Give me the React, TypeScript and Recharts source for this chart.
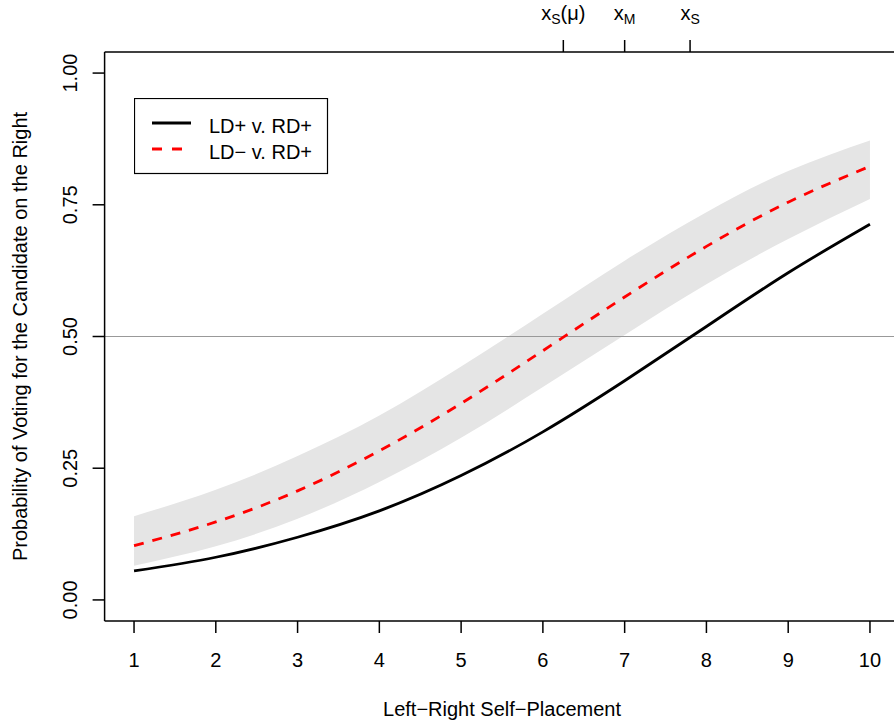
import React from 'react';
import {
  ComposedChart,
  Area,
  Line,
  XAxis,
  YAxis,
  ReferenceLine,
  Legend,
} from 'recharts';

// self-placement on the left-right scale
const placements = [1, 2, 3, 4, 5, 6, 7, 8, 9, 10];
// LD+ v. RD+ (solid black)
const ldPlus = [0.055, 0.081, 0.119, 0.169, 0.236, 0.319, 0.416, 0.519, 0.621, 0.713];
// LD- v. RD+ (dashed red)
const ldMinus = [0.103, 0.148, 0.207, 0.283, 0.373, 0.473, 0.575, 0.671, 0.755, 0.823];
// confidence band around LD- v. RD+
const bandLow = [0.065, 0.102, 0.154, 0.224, 0.308, 0.404, 0.503, 0.599, 0.685, 0.761];
const bandHigh = [0.159, 0.209, 0.273, 0.35, 0.443, 0.543, 0.644, 0.736, 0.814, 0.872];

const yTicks = [0, 0.25, 0.5, 0.75, 1];
const topTicks = [6.25, 7.0, 7.8];
const topLabels = [
  { base: 'x', sub: 'S', tail: '(\u03bc)' },
  { base: 'x', sub: 'M', tail: '' },
  { base: 'x', sub: 'S', tail: '' },
];

const data = placements.map((p, i) => ({
  p,
  solid: ldPlus[i],
  dashed: ldMinus[i],
  band: [bandLow[i], bandHigh[i]],
}));

const FONT = '"Liberation Sans", Arial, Helvetica, sans-serif';
const FS = 20;

const BottomTick = (props: any) => {
  const { x, y, payload } = props;
  return (
    <text x={x} y={y + 32} textAnchor="middle" fontSize={FS} fontFamily={FONT} fill="#000">
      {payload.value}
    </text>
  );
};

const LeftTick = (props: any) => {
  const { x, y, payload } = props;
  const cx = x - 21;
  return (
    <text
      x={cx}
      y={y}
      transform={`rotate(-90, ${cx}, ${y})`}
      textAnchor="middle"
      dominantBaseline="central"
      fontSize={FS}
      fontFamily={FONT}
      fill="#000"
    >
      {Number(payload.value).toFixed(2)}
    </text>
  );
};

const TopTick = (props: any) => {
  const { x, y, index } = props;
  const lab = topLabels[index] || topLabels[0];
  return (
    <text x={x} y={y - 18.5} textAnchor="middle" fontSize={FS} fontFamily={FONT} fill="#000">
      <tspan>{lab.base}</tspan>
      <tspan dy={4} fontSize={14}>{lab.sub}</tspan>
      {lab.tail ? <tspan dy={-4}>{lab.tail}</tspan> : null}
    </text>
  );
};

const LegendBox = () => (
  <svg width={195} height={77} style={{ display: 'block' }}>
    <rect x={0.5} y={0.5} width={193} height={75} fill="#fff" stroke="#000" strokeWidth={1.2} />
    <line x1={18} x2={57} y1={25} y2={25} stroke="#000" strokeWidth={2.8} />
    <line x1={18} x2={57} y1={51} y2={51} stroke="#ff0000" strokeWidth={2.8} strokeDasharray="10 10" />
    <text x={75} y={35} fontSize={FS} fontFamily={FONT} fill="#000">LD+ v. RD+</text>
    <text x={75} y={61} fontSize={FS} fontFamily={FONT} fill="#000">LD{'\u2212'} v. RD+</text>
  </svg>
);

const App: React.FC = () => {
  return (
    <div style={{ position: 'absolute', left: 0, top: 0, width: 894, height: 725, overflow: 'hidden', background: '#fff' }}>
      <ComposedChart
        width={910}
        height={725}
        data={data}
        margin={{ top: 22, right: 10.6, bottom: 44, left: 44.6 }}
      >
        <XAxis
          dataKey="p"
          type="number"
          domain={[0.64, 10.36]}
          allowDataOverflow
          ticks={placements}
          interval={0}
          tickSize={12}
          height={60}
          axisLine={{ stroke: '#000', strokeWidth: 1.5 }}
          tickLine={{ stroke: '#000', strokeWidth: 1.5 }}
          tick={<BottomTick />}
        />
        <XAxis
          xAxisId="top"
          dataKey="p"
          orientation="top"
          type="number"
          domain={[0.64, 10.36]}
          allowDataOverflow
          ticks={topTicks}
          interval={0}
          tickSize={12}
          height={30}
          axisLine={{ stroke: '#000', strokeWidth: 1.5 }}
          tickLine={{ stroke: '#000', strokeWidth: 1.5 }}
          tick={<TopTick />}
        />
        <YAxis
          type="number"
          domain={[-0.04, 1.04]}
          allowDataOverflow
          ticks={yTicks}
          interval={0}
          tickSize={12}
          width={60}
          axisLine={{ stroke: '#000', strokeWidth: 1.5 }}
          tickLine={{ stroke: '#000', strokeWidth: 1.5 }}
          tick={<LeftTick />}
        />
        <Area
          dataKey="band"
          type="natural"
          fill="#e5e5e5"
          fillOpacity={1}
          stroke="none"
          isAnimationActive={false}
          legendType="none"
        />
        <ReferenceLine y={0.5} stroke="#999999" strokeWidth={1.2} />
        <Line
          dataKey="solid"
          type="natural"
          stroke="#000"
          strokeWidth={2.8}
          dot={false}
          isAnimationActive={false}
        />
        <Line
          dataKey="dashed"
          type="natural"
          stroke="#ff0000"
          strokeWidth={2.8}
          strokeDasharray="10 9"
          dot={false}
          isAnimationActive={false}
        />
        <Legend
          layout="vertical"
          align="center"
          verticalAlign="middle"
          content={<LegendBox />}
          wrapperStyle={{ position: 'absolute', left: 134, top: 98, width: 195, height: 77 }}
        />
      </ComposedChart>
      <svg
        width={894}
        height={725}
        style={{ position: 'absolute', left: 0, top: 0, pointerEvents: 'none' }}
      >
        <text
          x={27}
          y={336.5}
          transform="rotate(-90, 27, 336.5)"
          textAnchor="middle"
          fontSize={FS}
          fontFamily={FONT}
          fill="#000"
        >
          Probability of Voting for the Candidate on the Right
        </text>
        <text x={502} y={716} textAnchor="middle" fontSize={FS} fontFamily={FONT} fill="#000">
          Left{'\u2212'}Right Self{'\u2212'}Placement
        </text>
      </svg>
    </div>
  );
};

export default App;
